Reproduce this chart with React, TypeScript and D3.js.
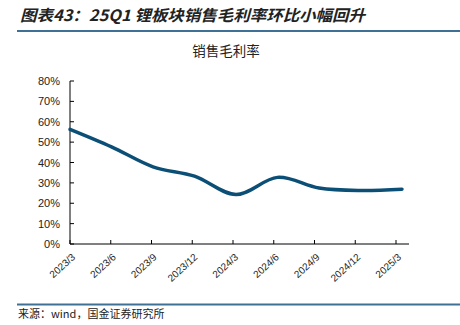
import React from "react";
import * as d3 from "d3";

const categories = ["2023/3", "2023/6", "2023/9", "2023/12", "2024/3", "2024/6", "2024/9", "2024/12", "2025/3"];
const margin = [56.3, 47.7, 37.9, 33.3, 24.3, 32.7, 27.5, 26.3, 26.9];
const yTicks = [0, 10, 20, 30, 40, 50, 60, 70, 80];

const W = 460, H = 325;
const x0 = 70, xEnd = 409, yBottom = 244, yTop = 81;

export default function App() {
  const xLine = d3.scalePoint<string>().domain(categories).range([x0, 402]);
  const xTick = d3.scalePoint<string>().domain(categories).range([x0, 396]);
  const y = d3.scaleLinear().domain([0, 80]).range([yBottom, yTop]);
  const line = d3
    .line<number>()
    .x((_, i) => xLine(categories[i]) as number)
    .y((d) => y(d))
    .curve(d3.curveCardinal.tension(0));
  const cjk = "'Noto Sans CJK SC', sans-serif";
  return (
    <svg width={W} height={H} style={{ position: "absolute", left: 0, top: 0, background: "#fff" }}>
      <text x={20} y={21} fontFamily={cjk} fontSize={15.5} fontWeight="bold" fontStyle="italic" fill="#222" textLength={345} lengthAdjust="spacingAndGlyphs">
        图表43：25Q1 锂板块销售毛利率环比小幅回升
      </text>
      <line x1={17} x2={460} y1={31} y2={31} stroke="#3f7196" strokeWidth={2} />
      <text x={226} y={56} textAnchor="middle" fontFamily={cjk} fontSize={13.5} fill="#222">
        销售毛利率
      </text>
      {/* y axis */}
      <line x1={x0} x2={x0} y1={yTop} y2={yBottom} stroke="#000" strokeWidth={1} />
      {yTicks.map((t) => (
        <g key={t}>
          <line x1={x0} x2={x0 + 4} y1={y(t)} y2={y(t)} stroke="#000" />
          <text x={60} y={y(t) + 4} textAnchor="end" fontFamily="'Liberation Sans', Arial, sans-serif" fontSize={11} fill="#222">
            {t}%
          </text>
        </g>
      ))}
      {/* x axis */}
      <line x1={x0} x2={xEnd} y1={yBottom} y2={yBottom} stroke="#000" strokeWidth={1} />
      {categories.map((c) => (
        <g key={c}>
          <line x1={xTick(c)} x2={xTick(c)} y1={yBottom} y2={yBottom - 4} stroke="#000" />
          <text
            transform={`translate(${(xTick(c) as number) + 6},${yBottom + 14}) rotate(-42)`}
            textAnchor="end"
            fontFamily="'Liberation Sans', Arial, sans-serif"
            fontSize={10}
            fill="#222"
          >
            {c}
          </text>
        </g>
      ))}
      <path d={line(margin) || ""} fill="none" stroke="#0c4f76" strokeWidth={3.5} strokeLinecap="round" />
      <line x1={17} x2={460} y1={304.5} y2={304.5} stroke="#3f7196" strokeWidth={2} />
      <text x={18} y={318} fontFamily={cjk} fontSize={11} fill="#222">
        来源：wind，国金证券研究所
      </text>
    </svg>
  );
}
